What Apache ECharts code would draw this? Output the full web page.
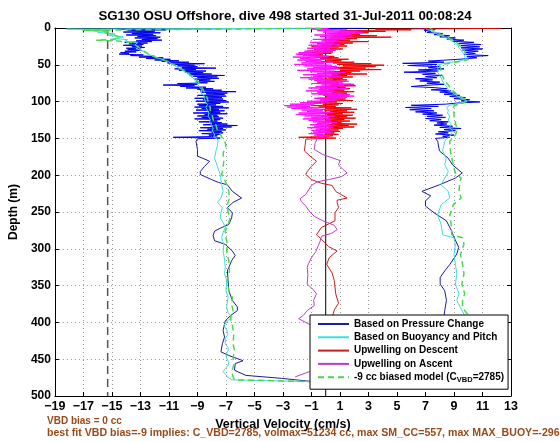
<!DOCTYPE html>
<html><head><meta charset="utf-8">
<script src="https://cdn.jsdelivr.net/npm/echarts@6/dist/echarts.min.js"></script>
<style>html,body{margin:0;padding:0;background:#fff}#c{width:560px;height:442px}</style>
</head><body><div id="c"></div>
<script>
const titleText = 'SG130 OSU Offshore, dive 498 started 31-Jul-2011 00:08:24';
const xName = 'Vertical Velocity (cm/s)';
const yName = 'Depth (m)';
const xMin = -19, xMax = 13, xStep = 2;
const yMin = 0, yMax = 500, yStep = 50;
const legendNames = ['Based on Pressure Change', 'Based on Buoyancy and Pitch', 'Upwelling on Descent', 'Upwelling on Ascent', '-9 cc biased model (CVBD=2785)'];
const noteLines = ['VBD bias = 0 cc', 'best fit VBD bias=-9 implies: C_VBD=2785, volmax=51234 cc, max SM_CC=557, max MAX_BUOY=-296'];
const refLineX = [-15.3, 0];
const refLineDepth = [0, 500];

// [depth (m), vertical velocity (cm/s)]
const blueDownTop = [[0.3,2.8],[1.5,-14.6],[2.5,-11.2],[3.5,-13.9],[4.5,-12.0],[5.5,-14.2],[6.5,-11.6],[7.5,-13.6],[8.5,-12.1],[9.5,-14.0],[10.5,-11.9],[11.5,-13.2],[12.5,-11.6],[13.5,-13.4],[14.5,-11.8],[15.5,-12.9],[16.5,-11.5],[17.5,-13.3],[18.5,-12.2],[19.5,-14.1],[20.5,-12.5],[21.5,-13.8],[22.5,-12.8],[23.5,-14.2],[24.5,-12.9],[25.5,-13.6],[26.5,-12.7],[27.5,-14.0],[28.5,-13.0],[29.5,-13.9],[30.5,-12.9],[31.5,-14.1],[32.5,-13.3],[33.5,-14.4],[34.5,-13.8],[35.5,-14.5],[36.5,-12.8],[37.5,-13.7],[38.5,-12.0],[39.5,-13.1],[40.5,-11.4],[41.5,-12.6],[42.5,-10.9],[43.5,-12.0],[44.5,-10.3],[45.5,-11.5],[46.5,-9.6],[47.5,-11.1],[48.5,-8.5],[49.5,-10.6],[50.5,-9.2],[51.5,-10.4],[52.5,-9.0],[53.5,-10.1],[54.5,-7.7],[55.5,-10.6],[56.5,-9.1],[57.5,-10.3],[58.5,-8.4],[59.5,-9.9],[60.5,-8.6],[61.5,-9.7],[62.5,-8.0],[63.5,-9.5],[64.5,-7.1],[65.5,-9.3],[66.5,-7.6],[67.5,-9.0],[68.5,-7.5],[69.5,-9.2],[70.5,-8.1],[71.5,-8.9],[72.5,-7.8],[73.5,-9.1],[74.5,-8.3],[75.5,-10.4],[76.5,-9.0],[77.5,-11.4],[78.5,-9.2],[79.5,-10.2],[80.5,-8.4],[81.5,-9.8],[82.5,-7.9],[83.5,-9.0],[84.5,-7.3],[85.5,-8.8],[86.5,-6.3],[87.5,-8.7],[88.5,-6.9],[89.5,-8.4],[90.5,-7.1],[91.5,-9.0],[92.5,-7.0],[93.5,-8.5],[94.5,-7.3],[95.5,-9.2],[96.5,-7.2],[97.5,-8.6],[98.5,-7.0],[99.5,-9.1],[100.5,-6.8],[101.5,-8.4],[102.5,-7.4],[103.5,-9.0],[104.5,-7.7],[105.5,-8.9],[106.5,-7.2],[107.5,-9.2],[108.5,-6.8],[109.5,-8.7],[110.5,-7.5],[111.5,-9.1],[112.5,-7.1],[113.5,-8.2],[114.5,-7.4],[115.5,-9.3],[116.5,-6.9],[117.5,-8.5],[118.5,-7.6],[119.5,-9.0],[120.5,-7.5],[121.5,-8.7],[122.5,-7.2],[123.5,-9.2],[124.5,-7.4],[125.5,-8.1],[126.5,-7.6],[127.5,-8.9],[128.5,-7.3],[129.5,-8.0],[130.5,-6.9],[131.5,-8.6],[132.5,-6.2],[133.5,-8.0],[134.5,-6.6],[135.5,-8.8],[136.5,-7.2],[137.5,-8.3],[138.5,-7.0],[139.5,-8.9],[140.5,-7.3],[141.5,-8.0],[142.5,-7.2],[143.5,-8.7],[144.5,-7.4],[145.5,-8.2],[146.5,-7.6],[147.5,-8.0],[148.5,-10.7],[149.5,-7.4],[150.5,-9.0]];
const blueDownLow = [[150.5,-9.0],[154,-9.1],[165,-9.0],[174,-9.0],[181,-8.15],[188,-8.5],[195,-8.8],[199,-8.8],[206,-8.0],[210,-7.5],[213,-6.9],[222,-6.55],[231,-5.9],[237,-6.5],[244,-6.9],[251,-6.55],[258,-6.6],[267,-6.8],[272,-7.4],[276,-7.8],[282,-7.9],[289,-7.8],[294,-7.05],[303,-6.55],[309,-6.35],[316,-6.6],[330,-6.9],[343,-6.85],[357,-6.8],[370,-6.55],[379,-6.2],[384,-6.2],[391,-6.7],[398,-7.05],[411,-7.2],[420,-7.1],[429,-7.25],[440,-7.35],[445,-6.8],[452,-5.8],[456,-6.35],[465,-6.4],[472,-5.6],[476,-3.1],[480.5,-0.9],[481,8.4]];
const blueUpLow = [[150,7.7],[154,7.86],[167,7.98],[177,8.6],[186,8.9],[197,9.58],[204,9.09],[213,7.98],[222,6.75],[228,7.37],[235,7.0],[242,7.0],[251,7.6],[262,8.47],[276,8.84],[282,8.95],[298,9.33],[307,9.2],[321,8.72],[330,8.35],[339,8.03],[348,8.03],[357,8.35],[370,8.47],[384,8.35],[391,8.3],[410,8.2],[430,8.5],[450,8.3],[470,8.6],[481,8.4]];
const blueUpTop = [[0.5,6.3],[1.5,7.7],[3,6.9],[4.5,7.4],[6,7.1],[7.5,8.2],[9,7.6],[10.5,8.7],[12,8.0],[13.5,9.1],[15,8.5],[16.5,9.7],[18,8.9],[19.5,10.4],[21,9.3],[22.5,10.9],[24,9.4],[25.5,10.8],[27,9.5],[28.5,11.0],[30,9.6],[31.5,10.7],[33,9.8],[34.5,10.5],[36,9.7],[37.5,11.4],[39,9.9],[40.5,10.6],[42,9.7],[43.5,8.5],[45,7.2],[46.5,8.3],[48,5.4],[49.5,7.8],[51,5.8],[52.5,8.0],[54,7.2],[55.5,8.3],[57,6.5],[58.5,7.9],[60,5.5],[61.5,7.7],[63,6.8],[64.5,8.2],[66,7.0],[67.5,7.8],[69,6.3],[70.5,7.5],[72,6.6],[73.5,8.0],[75,7.1],[76.5,8.3],[78,6.9],[79.5,6.0],[81,7.6],[82.5,8.5],[84,7.4],[85.5,8.8],[87,8.0],[88.5,9.1],[90,8.3],[91.5,9.4],[93,8.7],[94.5,9.8],[96,9.0],[97.5,10.1],[99,9.5],[100.5,10.8],[102,9.2],[103.5,8.4],[105,6.0],[106.5,7.9],[108,5.6],[109.5,7.4],[111,5.9],[112.5,7.6],[114,6.3],[115.5,7.8],[117,6.8],[118.5,8.2],[120,7.1],[121.5,8.4],[123,7.0],[124.5,8.1],[126,7.3],[127.5,8.6],[129,7.8],[130.5,8.5],[132,7.6],[133.5,8.9],[135,8.0],[136.5,9.5],[138,8.3],[139.5,9.1],[141,7.9],[142.5,8.6],[144,7.7],[145.5,9.0],[147,8.2],[148.5,8.7],[150,7.7]];

const cyanDown = [[0.3,-0.5],[1.5,-18.2],[2.5,-15.4],[3.5,-17.0],[4.5,-15.2],[6,-16.0],[8,-14.8],[10,-15.3],[12,-14.2],[14,-14.8],[16,-13.9],[18,-14.1],[20,-13.2],[23,-13.4],[26,-13.1],[28,-13.3],[31,-12.9],[34,-12.6],[37,-12.3],[40,-11.9],[43,-11.4],[46,-11.0],[49,-10.8],[52,-10.5],[56,-10.2],[60,-9.8],[64,-9.6],[68,-9.3],[72,-9.15],[76,-9.0],[80,-8.85],[84,-8.7],[88,-8.75],[92,-8.55],[96,-8.5],[100,-8.45],[104,-8.3],[108,-8.4],[112,-8.3],[116,-8.2],[120,-8.25],[124,-8.1],[128,-8.15],[132,-8.0],[136,-7.9],[140,-7.95],[144,-7.8],[148,-7.85],[152,-7.55],[160,-7.6],[167,-7.7],[177,-7.8],[188,-7.6],[199,-7.4],[206,-7.35],[213,-7.3],[222,-7.2],[231,-7.35],[237,-7.6],[244,-7.25],[251,-7.35],[258,-7.4],[264,-7.2],[271,-7.05],[278,-7.2],[285,-7.3],[294,-7.15],[303,-7.2],[314,-7.1],[325,-7.05],[334,-7.1],[343,-6.95],[357,-7.0],[366,-6.85],[379,-6.95],[387,-6.85],[393,-6.55],[398,-6.9],[404,-7.15],[410,-6.95],[416,-6.85],[422,-7.05],[429,-7.05],[434,-6.85],[438,-6.85],[444,-7.0],[449,-6.95],[454,-6.8],[458,-6.85],[463,-7.05],[467,-7.2],[471,-7.0],[474,-6.9],[478,-6.6],[480.5,-1.0],[481,9.5]];
const cyanUp = [[0.5,7.0],[3,7.3],[6,7.6],[9,7.9],[12,8.3],[15,8.6],[18,8.9],[21,9.1],[24,9.3],[27,9.35],[30,9.5],[33,9.6],[36,9.7],[39,9.75],[42,9.85],[44,9.6],[46,9.0],[48,8.3],[50,7.9],[53,7.8],[56,7.9],[60,7.85],[64,8.0],[68,8.1],[72,8.2],[76,8.3],[80,8.5],[84,8.6],[88,8.9],[92,9.2],[96,9.5],[99,9.9],[101,9.7],[103,9.2],[105,8.7],[108,8.5],[112,8.6],[116,8.55],[120,8.7],[125,8.6],[130,8.8],[135,8.7],[140,8.9],[145,8.8],[150,8.5],[154,8.35],[167,8.2],[177,8.45],[186,8.35],[195,8.6],[204,8.35],[213,8.1],[222,8.6],[231,8.7],[240,8.1],[254,7.85],[267,8.1],[281,8.2],[285,9.0],[294,9.1],[308,9.0],[321,9.1],[334,9.2],[348,9.1],[361,9.35],[370,9.2],[380,9.45],[389,9.7],[400,9.8],[430,9.6],[460,9.5],[481,9.5]];

const redDownTop = [[0.5,12.3],[1.5,3.5],[2.5,6.0],[3.5,1.0],[4.5,4.2],[5.5,0.8],[6.5,3.0],[7.5,0.2],[8.5,2.4],[9.5,0.9],[10.5,3.6],[11.5,0.5],[12.5,4.6],[13.5,0.3],[14.5,2.2],[15.5,-0.2],[16.5,1.7],[17.5,0.4],[18.5,3.0],[19.5,0.0],[20.5,1.9],[21.5,-0.6],[22.5,1.3],[23.5,-0.3],[24.5,1.5],[25.5,-1.0],[26.5,0.8],[27.5,-0.5],[28.5,1.2],[29.5,-0.8],[30.5,0.6],[31.5,-1.3],[32.5,0.5],[33.5,-1.0],[34.5,0.4],[35.5,-1.9],[36.5,-0.2],[37.5,-1.2],[38.5,0.6],[39.5,-0.7],[40.5,0.9],[41.5,-0.4],[42.5,1.6],[43.5,0.0],[44.5,1.1],[45.5,-0.3],[46.5,2.0],[47.5,0.5],[48.5,3.2],[49.5,0.8],[50.5,4.1],[51.5,1.2],[52.5,3.5],[53.5,0.6],[54.5,2.8],[55.5,0.3],[56.5,3.9],[57.5,1.0],[58.5,2.4],[59.5,0.2],[60.5,1.8],[61.5,-0.2],[62.5,2.9],[63.5,0.4],[64.5,1.5],[65.5,-0.5],[66.5,1.9],[67.5,0.2],[68.5,1.2],[69.5,-0.3],[70.5,1.5],[71.5,0.1],[72.5,1.0],[73.5,-0.6],[74.5,0.9],[75.5,-0.2],[76.5,1.8],[77.5,0.3],[78.5,2.1],[79.5,0.0],[80.5,1.4],[81.5,-0.4],[82.5,1.7],[83.5,0.2],[84.5,1.3],[85.5,-0.3],[86.5,2.0],[87.5,0.4],[88.5,1.5],[89.5,-0.5],[90.5,1.0],[91.5,-0.1],[92.5,1.6],[93.5,0.0],[94.5,1.1],[95.5,-0.6],[96.5,1.4],[97.5,0.1],[98.5,1.9],[99.5,-0.4],[100.5,0.8],[101.5,-0.9],[102.5,1.2],[103.5,-0.2],[104.5,0.9],[105.5,-1.0],[106.5,0.7],[107.5,-0.5],[108.5,1.8],[109.5,0.0],[110.5,2.2],[111.5,-0.1],[112.5,1.5],[113.5,0.3],[114.5,2.0],[115.5,-0.4],[116.5,1.2],[117.5,0.1],[118.5,1.9],[119.5,-0.3],[120.5,1.5],[121.5,0.2],[122.5,2.1],[123.5,-0.2],[124.5,1.3],[125.5,0.0],[126.5,1.7],[127.5,-0.5],[128.5,1.1],[129.5,0.4],[130.5,2.2],[131.5,0.1],[132.5,1.6],[133.5,-0.3],[134.5,2.0],[135.5,0.2],[136.5,1.2],[137.5,-0.4],[138.5,0.9],[139.5,-0.1],[140.5,1.0],[141.5,-0.5],[142.5,0.6],[143.5,0.0],[144.5,0.9],[145.5,-0.6],[146.5,0.5],[147.5,-0.2],[148.5,-1.9],[149.5,0.7],[151,-1.4]];
const redDownLow = [[151,-1.4],[160,-1.45],[167,-1.5],[174,-1.1],[181,-0.65],[188,-1.0],[195,-1.3],[199,-1.4],[206,-1.0],[211,-0.3],[214,0.45],[222,0.7],[231,1.5],[234,0.8],[237,0.8],[244,0.9],[251,0.65],[262,0.65],[271,-0.3],[281,-0.65],[287,-0.3],[297,0.2],[303,0.8],[312,0.25],[321,0.07],[333,0.45],[343,0.6],[361,0.7],[374,0.9],[383,0.6],[390,0.5],[430,0.6],[478,0.5]];

const magUpTop = [[0.5,0.2],[1.5,-1.0],[2.5,1.5],[3.5,-0.6],[4.5,2.2],[5.5,-0.2],[6.5,2.6],[7.5,0.1],[8.5,1.8],[9.5,-0.8],[10.5,1.2],[11.5,-0.4],[12.5,2.0],[13.5,0.0],[14.5,1.4],[15.5,-0.9],[16.5,0.9],[17.5,-0.3],[18.5,1.5],[19.5,-1.1],[20.5,0.6],[21.5,-0.5],[22.5,1.0],[23.5,-1.2],[24.5,0.4],[25.5,-0.8],[26.5,0.9],[27.5,-1.3],[28.5,0.3],[29.5,-0.7],[30.5,0.7],[31.5,-1.5],[32.5,0.1],[33.5,-1.9],[34.5,-0.2],[35.5,-2.1],[36.5,-0.5],[37.5,-1.6],[38.5,0.2],[39.5,-2.3],[40.5,-0.6],[41.5,-1.8],[42.5,0.1],[43.5,-2.0],[44.5,-0.3],[45.5,-1.4],[46.5,0.5],[47.5,-1.7],[48.5,-0.1],[49.5,-2.2],[50.5,0.4],[51.5,-1.5],[52.5,0.8],[53.5,-0.9],[54.5,1.0],[55.5,-1.3],[56.5,0.3],[57.5,-2.0],[58.5,0.6],[59.5,-1.1],[60.5,1.4],[61.5,-0.6],[62.5,0.9],[63.5,-1.6],[64.5,0.2],[65.5,-0.9],[66.5,1.1],[67.5,-1.8],[68.5,-0.2],[69.5,-1.2],[70.5,0.5],[71.5,-0.8],[72.5,1.6],[73.5,-0.4],[74.5,1.2],[75.5,-1.0],[76.5,2.0],[77.5,-0.3],[78.5,1.3],[79.5,-0.7],[80.5,0.8],[81.5,-1.2],[82.5,1.5],[83.5,-0.5],[84.5,0.6],[85.5,-1.4],[86.5,0.4],[87.5,-0.6],[88.5,1.1],[89.5,-1.0],[90.5,1.7],[91.5,-0.2],[92.5,2.0],[93.5,0.1],[94.5,1.5],[95.5,-0.8],[96.5,0.9],[97.5,-0.4],[98.5,0.7],[99.5,-1.3],[100.5,0.2],[101.5,-1.8],[102.5,-0.3],[103.5,-2.5],[104.5,-0.8],[105.5,-2.9],[106.5,-1.1],[107.5,-2.7],[108.5,-0.5],[109.5,-2.4],[110.5,0.3],[111.5,-1.7],[112.5,-0.2],[113.5,-1.3],[114.5,0.5],[115.5,-1.9],[116.5,-0.4],[117.5,-2.1],[118.5,0.1],[119.5,-1.5],[120.5,0.6],[121.5,-1.0],[122.5,0.2],[123.5,-1.6],[124.5,-0.1],[125.5,-1.2],[126.5,0.4],[127.5,-0.9],[128.5,0.8],[129.5,-0.6],[130.5,0.3],[131.5,-1.1],[132.5,0.7],[133.5,-0.8],[134.5,0.5],[135.5,-1.3],[136.5,0.2],[137.5,-0.7],[138.5,0.6],[139.5,-1.0],[140.5,0.1],[141.5,-0.9],[142.5,0.4],[143.5,-1.2],[144.5,-0.2],[145.5,-0.8],[146.5,0.3],[147.5,-0.5],[148.5,-0.1],[149.5,-0.7],[150,-0.6]];
const magUpLow = [[150,-0.6],[157,-0.75],[165,-0.8],[172,-0.2],[180,1.0],[186,0.9],[192,1.2],[197,1.5],[202,1.1],[206,0.2],[209,-0.6],[214,-1.0],[220,-1.2],[226,-1.4],[232,-1.8],[236,-1.7],[242,-1.4],[250,-1.1],[256,-0.8],[262,-0.2],[268,0.6],[274,0.8],[279,0.4],[283,-0.3],[290,-0.4],[297,-0.55],[304,-0.7],[312,-1.0],[320,-1.2],[325,-1.3],[335,-1.25],[348,-1.3],[355,-0.9],[361,-0.65],[370,-0.85],[377,-0.8],[384,-1.3],[391,-1.6],[395,-1.9],[398,-1.6],[402,-1.2],[411,-0.5],[440,-0.4],[466,-0.5],[467,-1.16],[474,-2.14]];

const greenDown = [[0.3,-0.3],[3,-17.1],[4,-15.2],[6,-15.5],[9,-14.9],[12,-14.5],[15,-14.6],[16.5,-16.1],[17.5,-14.6],[20,-13.6],[24,-13.3],[28,-13.0],[32,-12.7],[36,-12.4],[40,-11.9],[44,-11.3],[48,-10.9],[52,-10.4],[56,-10.1],[60,-9.7],[64,-9.5],[68,-9.2],[72,-9.0],[76,-8.85],[80,-8.7],[84,-8.6],[88,-8.5],[92,-8.4],[96,-8.3],[100,-8.25],[104,-8.2],[108,-8.1],[112,-8.1],[116,-8.0],[120,-7.95],[124,-7.9],[128,-7.85],[132,-7.7],[136,-7.65],[140,-7.55],[144,-7.4],[148,-7.3],[152,-7.1],[160,-7.0],[170,-7.2],[180,-7.15],[190,-7.2],[199,-7.3],[206,-7.1],[213,-6.95],[222,-6.8],[231,-6.75],[240,-6.9],[250,-6.85],[258,-6.7],[267,-6.85],[276,-7.05],[285,-7.0],[294,-6.9],[303,-6.95],[316,-6.8],[330,-6.75],[343,-6.9],[357,-6.8],[366,-6.55],[375,-6.6],[384,-6.5],[393,-6.7],[404,-6.55],[416,-6.45],[429,-6.5],[438,-6.4],[449,-6.5],[458,-6.45],[467,-6.6],[474,-6.5],[478,-6.4],[480.5,-1.0],[481,9.7]];
const greenUp = [[0.5,7.3],[4,7.6],[8,8.0],[12,8.5],[16,8.9],[20,9.2],[25,9.5],[30,9.7],[35,9.8],[40,9.9],[43,10.0],[45,9.6],[47,9.0],[49,8.3],[52,8.0],[56,8.1],[60,8.0],[65,8.2],[70,8.3],[75,8.5],[80,8.7],[85,8.9],[90,9.2],[95,9.6],[99,10.0],[101,9.9],[103,9.4],[106,9.0],[110,8.9],[115,9.0],[120,9.0],[125,9.1],[130,9.1],[135,9.2],[140,9.2],[145,9.1],[150,8.9],[154,8.7],[167,8.75],[177,8.85],[190,9.0],[197,9.1],[204,9.5],[210,9.4],[222,9.35],[231,9.5],[240,8.95],[254,8.7],[267,8.8],[281,8.85],[285,9.6],[294,9.7],[308,9.45],[321,9.6],[334,9.7],[348,9.55],[361,9.75],[370,9.6],[380,9.6],[389,9.95],[400,10.0],[430,9.9],[460,9.8],[481,9.7]];

const toXY = arr => arr.map(p => [p[1], p[0]]);
const FONT = 'Liberation Sans, Arial, Helvetica, sans-serif';
const minus = v => String(v).replace('-', '\u2212');

function lineSeries(name, data, color, extra) {
  return Object.assign({
    type: 'line', name: name, data: toXY(data), symbol: 'none', showSymbol: false,
    smooth: false, animation: false, clip: true,
    lineStyle: { color: color, width: 1 }, itemStyle: { color: color }
  }, extra || {});
}

const chart = echarts.init(document.getElementById('c'), null, { renderer: 'canvas' });
const baseX = { type: 'value', min: xMin, max: xMax, interval: xStep };
const baseY = { type: 'value', min: yMin, max: yMax, interval: yStep, inverse: true };
const axisLine = { show: true, onZero: false, lineStyle: { color: '#000', width: 1 } };
const tick = { show: true, inside: true, length: 4, lineStyle: { color: '#000' } };
const split = { show: true, lineStyle: { color: '#9a9a9a', type: [1, 3], width: 1 } };

chart.setOption({
  backgroundColor: '#fff',
  animation: false,
  title: { text: titleText, left: 280, textAlign: 'center', top: 5,
    textStyle: { fontFamily: FONT, fontSize: 13.3, fontWeight: 'bold', color: '#000' } },
  grid: { left: 46, right: 49, top: 28, bottom: 46, containLabel: false },
  xAxis: [
    Object.assign({}, baseX, { position: 'bottom', name: xName, nameLocation: 'middle', nameGap: 18,
      nameTextStyle: { fontFamily: FONT, fontSize: 12.5, fontWeight: 'bold', color: '#000' },
      axisLine: axisLine, axisTick: tick, splitLine: split,
      axisLabel: { fontFamily: FONT, fontSize: 12.5, fontWeight: 'bold', color: '#000', margin: 4, formatter: minus, showMinLabel: true, showMaxLabel: true } }),
    Object.assign({}, baseX, { position: 'top', axisLine: axisLine, axisTick: tick, axisLabel: { show: false }, splitLine: { show: false } })
  ],
  yAxis: [
    Object.assign({}, baseY, { position: 'left', name: yName, nameLocation: 'middle', nameGap: 30, nameRotate: 90,
      nameTextStyle: { fontFamily: FONT, fontSize: 12, fontWeight: 'bold', color: '#000' },
      axisLine: axisLine, axisTick: tick, splitLine: split,
      axisLabel: { fontFamily: FONT, fontSize: 12, fontWeight: 'bold', color: '#000', margin: 4, showMinLabel: true, showMaxLabel: true } }),
    Object.assign({}, baseY, { position: 'right', axisLine: axisLine, axisTick: tick, axisLabel: { show: false }, splitLine: { show: false } })
  ],
  legend: {
    data: legendNames, orient: 'vertical', left: 310, top: 315, selectedMode: false,
    itemWidth: 31, itemHeight: 10, itemGap: 3.3, padding: [4, 4, 5, 7],
    backgroundColor: '#fff', borderColor: '#000', borderWidth: 1, z: 10,
    itemStyle: { opacity: 0 },
    formatter: n => n === legendNames[4] ? '-9 cc biased model (C{sub|VBD}=2785)' : n,
    textStyle: { fontFamily: FONT, fontSize: 10, fontWeight: 'bold', color: '#000',
      rich: { sub: { fontFamily: FONT, fontSize: 7.5, fontWeight: 'bold', color: '#000', padding: [6, 0, 0, 0] } } }
  },
  graphic: [
    { type: 'text', left: 47, top: 416, style: { text: noteLines[0], fill: '#9a4a1a', font: 'bold 10px ' + FONT } },
    { type: 'text', left: 47, top: 428, style: { text: noteLines[1], fill: '#9a4a1a', font: 'bold 10.6px ' + FONT } }
  ],
  series: [
    lineSeries('ref', refLineDepth.map(d => [d, refLineX[0]]), '#555', { lineStyle: { color: '#555', width: 1.5, type: [8, 5] }, silent: true }),
    lineSeries('zero', refLineDepth.map(d => [d, refLineX[1]]), '#000', { silent: true }),
    lineSeries(legendNames[0], blueDownLow, '#1c1c9e'),
    lineSeries(legendNames[0], blueUpLow, '#1c1c9e'),
    lineSeries(legendNames[0], blueDownTop, '#0000f0'),
    lineSeries(legendNames[0], blueUpTop, '#0000f0'),
    lineSeries(legendNames[1], cyanDown, '#3fdcdc'),
    lineSeries(legendNames[1], cyanUp, '#3fdcdc'),
    lineSeries(legendNames[2], redDownLow, '#c81e1e'),
    lineSeries(legendNames[2], redDownTop, '#f00000'),
    lineSeries(legendNames[3], magUpLow, '#bb3fc6'),
    lineSeries(legendNames[3], magUpTop, '#ff10ff'),
    lineSeries(legendNames[4], greenDown, '#4ad84a', { lineStyle: { color: '#4ad84a', width: 1.5, type: [6, 4] } }),
    lineSeries(legendNames[4], greenUp, '#4ad84a', { lineStyle: { color: '#4ad84a', width: 1.5, type: [6, 4] } })
  ]
});
</script>
</body></html>
